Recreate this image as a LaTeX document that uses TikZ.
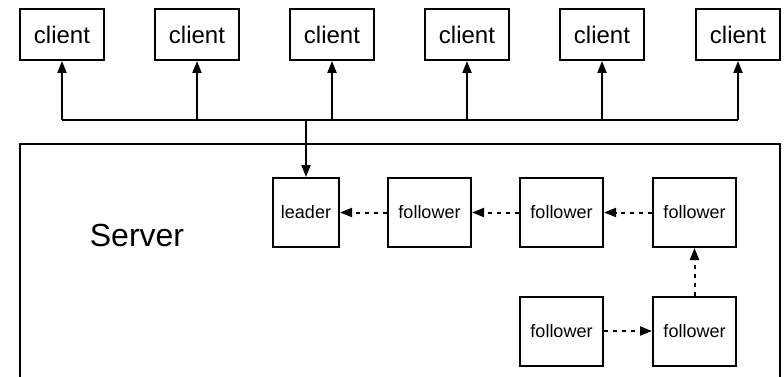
\documentclass[tikz,border=0pt]{standalone}
\usepackage{fontspec}
\setmainfont{Liberation Sans}
\usepackage{tikz}
\usetikzlibrary{arrows.meta}

\tikzset{
	client/.style={draw,line width=2pt,minimum width=84pt,minimum height=51pt,inner sep=0pt,font=\fontsize{24}{28}\selectfont},
	member/.style={draw,line width=2pt,minimum width=83pt,minimum height=69pt,inner sep=0pt,font=\fontsize{18}{22}\selectfont},
	link/.style={line width=2pt,-{Triangle[length=12pt,width=9pt]}},
	dlink/.style={link,dash pattern=on 4pt off 5pt},
}

\begin{document}
\begin{tikzpicture}[x=1pt,y=-1pt]
			\clip (0,0) rectangle (784,377);
			
			\foreach \x [count=\i] in {62,197,332,467,602,738} {
				\node[client] (c\i) at (\x,34.5) {client};
				\coordinate (b\i) at (\x,120);
				\draw[link] (b\i) -- (c\i);
			}
			\draw[line width=2pt] (b1) -- (b6);
			
			\draw[line width=2pt] (20,400) -- (20,144) -- (780,144) -- (780,400);
			\node[font=\fontsize{32}{38}\selectfont] (server) at (137,235) {Server};
			
			\node[member,minimum width=66pt] (leader) at (306,212.5) {leader};
			\node[member] (f1) at (429.5,212.5) {follower};
			\node[member] (f2) at (561.5,212.5) {follower};
			\node[member] (f3) at (694.5,212.5) {follower};
			\node[member] (f4) at (561.5,331) {follower};
			\node[member] (f5) at (694.5,331) {follower};
			
			\coordinate (hub) at (306,120);
			\draw[link] (hub) -- (leader);
			
			\draw[dlink] (f1) -- (leader);
			\draw[dlink] (f2) -- (f1);
			\draw[dlink] (f3) -- (f2);
			\draw[dlink] (f5) -- (f3);
			\draw[dlink] (f4) -- (f5);
			
		\end{tikzpicture}
\end{document}
